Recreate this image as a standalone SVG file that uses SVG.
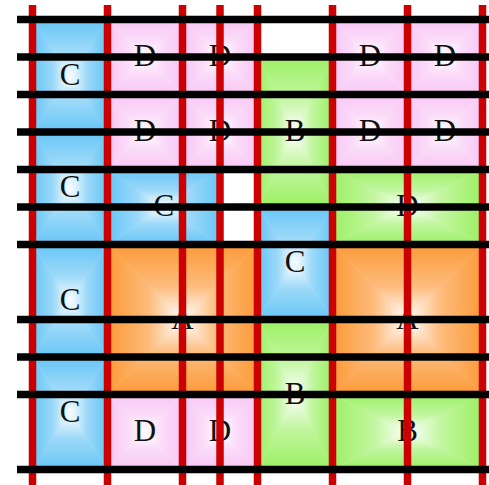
<svg xmlns="http://www.w3.org/2000/svg" width="489" height="485" viewBox="0 0 489 485">
<style>
.lbl{font-family:"Liberation Serif","Times New Roman",serif;font-size:31px;fill:#111;text-anchor:middle}
.vl{stroke:#cc0000;stroke-width:7.5}
.hl{stroke:#000;stroke-width:7.5}
</style>
<defs>
<linearGradient id="blT" x1="0" y1="0" x2="0" y2="1"><stop offset="0" stop-color="#66c6f6"/><stop offset="0.55" stop-color="#9cd9f9"/><stop offset="1" stop-color="#ffffff"/></linearGradient>
<linearGradient id="blB" href="#blT" x1="0" y1="1" x2="0" y2="0"/>
<linearGradient id="blL" href="#blT" x1="0" y1="0" x2="1" y2="0"/>
<linearGradient id="blR" href="#blT" x1="1" y1="0" x2="0" y2="0"/>
<linearGradient id="piT" x1="0" y1="0" x2="0" y2="1"><stop offset="0" stop-color="#f8c6f5"/><stop offset="0.55" stop-color="#fbdcf9"/><stop offset="1" stop-color="#ffffff"/></linearGradient>
<linearGradient id="piB" href="#piT" x1="0" y1="1" x2="0" y2="0"/>
<linearGradient id="piL" href="#piT" x1="0" y1="0" x2="1" y2="0"/>
<linearGradient id="piR" href="#piT" x1="1" y1="0" x2="0" y2="0"/>
<linearGradient id="grT" x1="0" y1="0" x2="0" y2="1"><stop offset="0" stop-color="#9cf063"/><stop offset="0.55" stop-color="#c2f6a0"/><stop offset="1" stop-color="#ffffff"/></linearGradient>
<linearGradient id="grB" href="#grT" x1="0" y1="1" x2="0" y2="0"/>
<linearGradient id="grL" href="#grT" x1="0" y1="0" x2="1" y2="0"/>
<linearGradient id="grR" href="#grT" x1="1" y1="0" x2="0" y2="0"/>
<linearGradient id="orT" x1="0" y1="0" x2="0" y2="1"><stop offset="0" stop-color="#fc9a38"/><stop offset="0.55" stop-color="#fdbb7a"/><stop offset="1" stop-color="#ffffff"/></linearGradient>
<linearGradient id="orB" href="#orT" x1="0" y1="1" x2="0" y2="0"/>
<linearGradient id="orL" href="#orT" x1="0" y1="0" x2="1" y2="0"/>
<linearGradient id="orR" href="#orT" x1="1" y1="0" x2="0" y2="0"/>
<symbol id="blue" viewBox="0 0 1 1" preserveAspectRatio="none">
<rect width="1" height="1" fill="#a8ddf9"/>
<polygon points="0,0 1,0 0.5,0.5" fill="url(#blT)"/><polygon points="0,1 1,1 0.5,0.5" fill="url(#blB)"/>
<polygon points="0,0 0,1 0.5,0.5" fill="url(#blL)"/><polygon points="1,0 1,1 0.5,0.5" fill="url(#blR)"/>
</symbol>
<symbol id="pink" viewBox="0 0 1 1" preserveAspectRatio="none">
<rect width="1" height="1" fill="#fbe0f9"/>
<polygon points="0,0 1,0 0.5,0.5" fill="url(#piT)"/><polygon points="0,1 1,1 0.5,0.5" fill="url(#piB)"/>
<polygon points="0,0 0,1 0.5,0.5" fill="url(#piL)"/><polygon points="1,0 1,1 0.5,0.5" fill="url(#piR)"/>
</symbol>
<symbol id="green" viewBox="0 0 1 1" preserveAspectRatio="none">
<rect width="1" height="1" fill="#c8f7a8"/>
<polygon points="0,0 1,0 0.5,0.5" fill="url(#grT)"/><polygon points="0,1 1,1 0.5,0.5" fill="url(#grB)"/>
<polygon points="0,0 0,1 0.5,0.5" fill="url(#grL)"/><polygon points="1,0 1,1 0.5,0.5" fill="url(#grR)"/>
</symbol>
<symbol id="orange" viewBox="0 0 1 1" preserveAspectRatio="none">
<rect width="1" height="1" fill="#fdc088"/>
<polygon points="0,0 1,0 0.5,0.5" fill="url(#orT)"/><polygon points="0,1 1,1 0.5,0.5" fill="url(#orB)"/>
<polygon points="0,0 0,1 0.5,0.5" fill="url(#orL)"/><polygon points="1,0 1,1 0.5,0.5" fill="url(#orR)"/>
</symbol>
</defs>

<g id="cell-c1"><use href="#blue" x="32.5" y="19.5" width="75" height="112.5"/><text class="lbl" x="70" y="84.75">C</text></g>
<g id="cell-c2"><use href="#blue" x="32.5" y="132" width="75" height="112.5"/><text class="lbl" x="70" y="197.25">C</text></g>
<g id="cell-c3"><use href="#blue" x="32.5" y="244.5" width="75" height="112.5"/><text class="lbl" x="70" y="309.75">C</text></g>
<g id="cell-c4"><use href="#blue" x="32.5" y="357" width="75" height="112.5"/><text class="lbl" x="70" y="422.25">C</text></g>
<g id="cell-d1"><use href="#pink" x="107.5" y="19.5" width="75" height="75"/><text class="lbl" x="145" y="66">D</text></g>
<g id="cell-d2"><use href="#pink" x="182.5" y="19.5" width="75" height="75"/><text class="lbl" x="220" y="66">D</text></g>
<g id="cell-d3"><use href="#pink" x="107.5" y="94.5" width="75" height="75"/><text class="lbl" x="145" y="141">D</text></g>
<g id="cell-d4"><use href="#pink" x="182.5" y="94.5" width="75" height="75"/><text class="lbl" x="220" y="141">D</text></g>
<g id="cell-d5"><use href="#pink" x="332.5" y="19.5" width="75" height="75"/><text class="lbl" x="370" y="66">D</text></g>
<g id="cell-d6"><use href="#pink" x="407.5" y="19.5" width="75" height="75"/><text class="lbl" x="445" y="66">D</text></g>
<g id="cell-d7"><use href="#pink" x="332.5" y="94.5" width="75" height="75"/><text class="lbl" x="370" y="141">D</text></g>
<g id="cell-d8"><use href="#pink" x="407.5" y="94.5" width="75" height="75"/><text class="lbl" x="445" y="141">D</text></g>
<g id="cell-b1"><use href="#green" x="257.5" y="57" width="75" height="150"/><text class="lbl" x="295" y="141">B</text></g>
<g id="cell-c5"><use href="#blue" x="107.5" y="169.5" width="112.5" height="75"/><text class="lbl" x="163.75" y="216">C</text></g>
<g id="cell-d9"><use href="#green" x="332.5" y="169.5" width="150" height="75"/><text class="lbl" x="407.5" y="216">D</text></g>
<g id="cell-c6"><use href="#blue" x="257.5" y="207" width="75" height="112.5"/><text class="lbl" x="295" y="272.25">C</text></g>
<g id="cell-a1"><use href="#orange" x="107.5" y="244.5" width="150" height="150"/><text class="lbl" x="182.5" y="328.5">A</text></g>
<g id="cell-a2"><use href="#orange" x="332.5" y="244.5" width="150" height="150"/><text class="lbl" x="407.5" y="328.5">A</text></g>
<g id="cell-b2"><use href="#green" x="257.5" y="319.5" width="75" height="150"/><text class="lbl" x="295" y="403.5">B</text></g>
<g id="cell-d10"><use href="#pink" x="107.5" y="394.5" width="75" height="75"/><text class="lbl" x="145" y="441">D</text></g>
<g id="cell-d11"><use href="#pink" x="182.5" y="394.5" width="75" height="75"/><text class="lbl" x="220" y="441">D</text></g>
<g id="cell-b3"><use href="#green" x="332.5" y="394.5" width="150" height="75"/><text class="lbl" x="407.5" y="441">B</text></g>

<g id="connectors">
<g id="vertical-lines">
<line class="vl" x1="32.5" y1="5" x2="32.5" y2="485"/>
<line class="vl" x1="107.5" y1="5" x2="107.5" y2="485"/>
<line class="vl" x1="182.5" y1="5" x2="182.5" y2="485"/>
<line class="vl" x1="220" y1="5" x2="220" y2="485"/>
<line class="vl" x1="257.5" y1="5" x2="257.5" y2="485"/>
<line class="vl" x1="332.5" y1="5" x2="332.5" y2="485"/>
<line class="vl" x1="407.5" y1="5" x2="407.5" y2="485"/>
<line class="vl" x1="482.5" y1="5" x2="482.5" y2="485"/>
</g>
<g id="horizontal-lines">
<line class="hl" x1="17" y1="19.5" x2="489" y2="19.5"/>
<line class="hl" x1="17" y1="57" x2="489" y2="57"/>
<line class="hl" x1="17" y1="94.5" x2="489" y2="94.5"/>
<line class="hl" x1="17" y1="132" x2="489" y2="132"/>
<line class="hl" x1="17" y1="169.5" x2="489" y2="169.5"/>
<line class="hl" x1="17" y1="207" x2="489" y2="207"/>
<line class="hl" x1="17" y1="244.5" x2="489" y2="244.5"/>
<line class="hl" x1="17" y1="319.5" x2="489" y2="319.5"/>
<line class="hl" x1="17" y1="357" x2="489" y2="357"/>
<line class="hl" x1="17" y1="394.5" x2="489" y2="394.5"/>
<line class="hl" x1="17" y1="469.5" x2="489" y2="469.5"/>
</g>
</g>
</svg>
